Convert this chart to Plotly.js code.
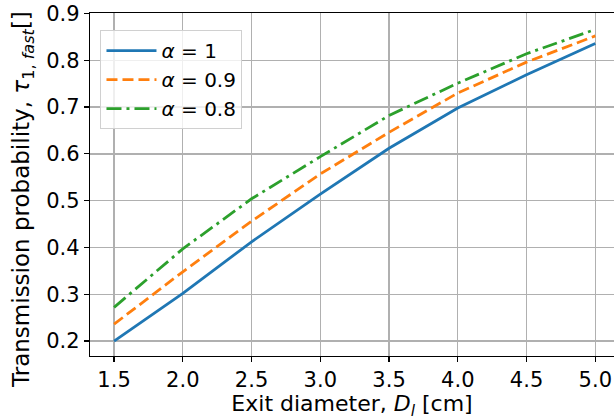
<!DOCTYPE html>
<html>
<head>
<meta charset="utf-8">
<script src="https://cdn.plot.ly/plotly-3.0.1.min.js"></script>
<style>html,body{margin:0;padding:0;background:#fff;}#chart{width:614px;height:420px;}</style>
</head>
<body>
<div id="chart"></div>
<script>
const diameters = [1.5, 2.0, 2.5, 3.0, 3.5, 3.85, 4.0, 4.5, 5.0];
const alpha1   = [0.200, 0.302, 0.412, 0.514, 0.612, 0.673, 0.698, 0.769, 0.836];
const diameters2 = [1.5, 2.0, 2.5, 3.0, 3.5, 4.0, 4.5, 5.0];
const alpha09  = [0.236, 0.348, 0.456, 0.557, 0.646, 0.730, 0.796, 0.852];
const alpha08  = [0.272, 0.397, 0.504, 0.594, 0.682, 0.751, 0.814, 0.866];
const seriesNames = ['<i>α</i> = 1', '<i>α</i> = 0.9', '<i>α</i> = 0.8'];
const xTicks = [1.5, 2.0, 2.5, 3.0, 3.5, 4.0, 4.5, 5.0];
const yTicks = [0.2, 0.3, 0.4, 0.5, 0.6, 0.7, 0.8, 0.9];
const xTitle = 'Exit diameter, <i>D</i><sub><i>l</i></sub> [cm]';
const yTitle = 'Transmission probability, <i>τ</i><sub>1, <i>fast</i></sub>[]';

const font = 'DejaVu Sans, sans-serif';
const traces = [
  {x: diameters, y: alpha1, name: seriesNames[0], mode: 'lines',
   line: {color: '#1f77b4', width: 2.8}},
  {x: diameters2, y: alpha09, name: seriesNames[1], mode: 'lines',
   line: {color: '#ff7f0e', width: 2.8, dash: '11px,5px'}},
  {x: diameters2, y: alpha08, name: seriesNames[2], mode: 'lines',
   line: {color: '#2ca02c', width: 2.8, dash: '15px,5px,3px,5px'}}
];
const layout = {
  width: 614, height: 420,
  margin: {l: 90, r: 0, t: 13, b: 64},
  paper_bgcolor: '#fff', plot_bgcolor: '#fff',
  font: {family: font, color: '#000', size: 21},
  showlegend: true,
  legend: {x: 0.02, y: 0.95, xanchor: 'left', yanchor: 'top',
           bgcolor: 'rgba(255,255,255,0.8)', bordercolor: '#d0d0d0', borderwidth: 1,
           font: {family: font, size: 20}, tracegroupgap: 0, itemwidth: 50},
  xaxis: {
    range: [1.325, 5.136], tickvals: xTicks, ticktext: xTicks.map(v => v.toFixed(1)),
    showgrid: true, gridcolor: '#b0b0b0', gridwidth: 1.3,
    showline: true, linecolor: '#000', linewidth: 1.2, mirror: true,
    ticks: 'outside', ticklen: 5, tickcolor: '#000', tickwidth: 1.2,
    zeroline: false, tickfont: {family: font, size: 21},
    title: {text: xTitle, font: {family: font, size: 22}, standoff: 6}
  },
  yaxis: {
    range: [0.168, 0.901], tickvals: yTicks, ticktext: yTicks.map(v => v.toFixed(1)),
    showgrid: true, gridcolor: '#b0b0b0', gridwidth: 1.3,
    showline: true, linecolor: '#000', linewidth: 1.2, mirror: false,
    ticks: 'outside', ticklen: 5, tickcolor: '#000', tickwidth: 1.2,
    zeroline: false, tickfont: {family: font, size: 21}
  },
  annotations: [{
    text: yTitle, textangle: -90, showarrow: false,
    xref: 'paper', yref: 'paper', x: 0, y: 0.455, xanchor: 'center', yanchor: 'middle',
    xshift: -67, font: {family: font, size: 23, color: '#000'}
  }]
};
Plotly.newPlot('chart', traces, layout, {displayModeBar: false, staticPlot: true});
</script>
</body>
</html>
